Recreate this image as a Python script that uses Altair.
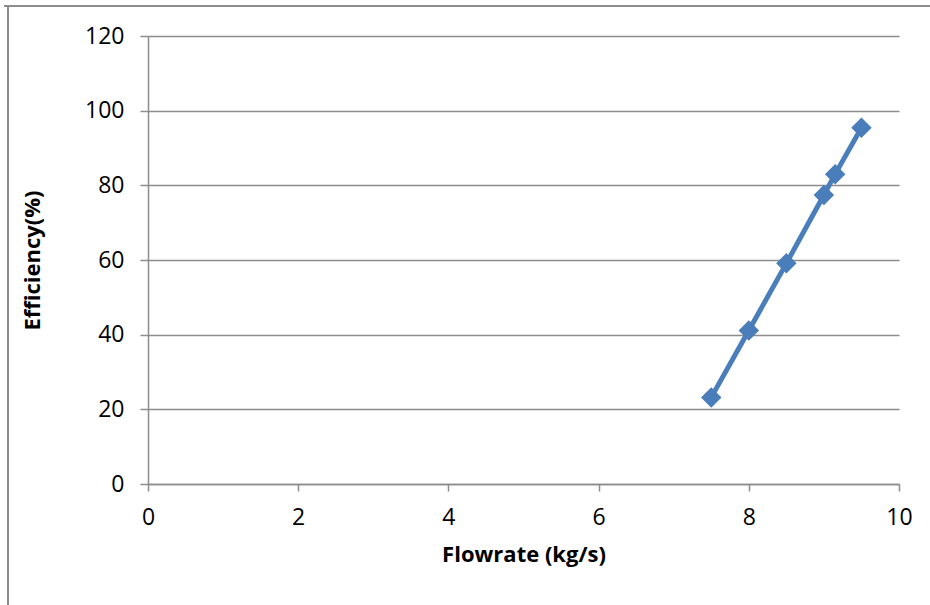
import altair as alt
import pandas as pd

flowrate = [7.5, 8.0, 8.5, 9.0, 9.15, 9.5]
efficiency = [23.2, 41.1, 59.1, 77.4, 83.0, 95.4]

df = pd.DataFrame({"Flowrate": flowrate, "Efficiency": efficiency})

FONT = "Open Sans"
GRAY = "#8c8c8c"
BLUE = "#4a7ebb"

common = dict(
    domainColor=GRAY, domainWidth=1.5,
    tickColor=GRAY, tickWidth=1.5,
    gridColor=GRAY, gridWidth=1.5,
    labelFont=FONT, labelFontSize=23, labelColor="#000", labelFlush=False,
    titleFont=FONT, titleFontSize=22, titleFontWeight="bold", titleColor="#000",
)

x_enc = alt.X("Flowrate:Q",
              scale=alt.Scale(domain=[0, 10], nice=False, zero=True),
              axis=alt.Axis(values=[0, 2, 4, 6, 8, 10], format="d",
                            title="Flowrate (kg/s)", grid=False,
                            tickSize=7, labelPadding=15, titlePadding=15,
                            **common))
y_enc = alt.Y("Efficiency:Q",
              scale=alt.Scale(domain=[0, 120], nice=False),
              axis=alt.Axis(values=[0, 20, 40, 60, 80, 100, 120], format="d",
                            title="Efficiency(%)", grid=True,
                            tickSize=8, labelPadding=16, titlePadding=40,
                            **common))

base = alt.Chart(df).encode(x=x_enc, y=y_enc)

line = base.mark_line(color=BLUE, strokeWidth=5, clip=False)
points = base.mark_point(shape="diamond", filled=True, size=420, color=BLUE,
                         opacity=1, clip=False)

border_top = alt.Chart(pd.DataFrame({"a": [0]})).mark_rule(
    color=GRAY, strokeWidth=2, clip=False
).encode(x=alt.value(-144), x2=alt.value(790), y=alt.value(-30))

border_left = alt.Chart(pd.DataFrame({"a": [0]})).mark_rule(
    color=GRAY, strokeWidth=2, clip=False
).encode(x=alt.value(-140), y=alt.value(-30), y2=alt.value(580))

chart = alt.layer(border_top, border_left, line, points).properties(
    width=751, height=448,
    autosize=alt.AutoSizeParams(type="none"),
    padding={"left": 148, "top": 36, "right": 31, "bottom": 121},
    background="white",
).configure_view(stroke=None)

chart.save("out.html", embed_options={"renderer": "svg", "actions": False})
